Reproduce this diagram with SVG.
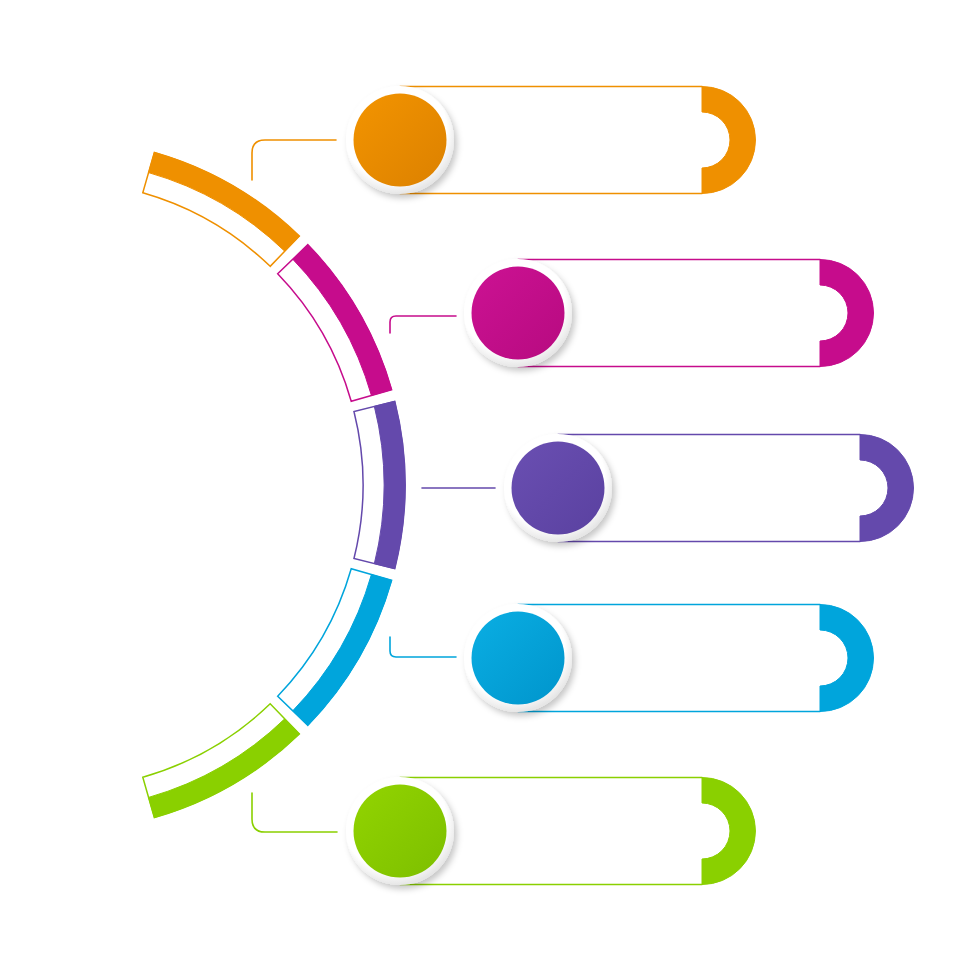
<svg xmlns="http://www.w3.org/2000/svg" width="980" height="980" viewBox="0 0 980 980">
<defs>
<filter id="sh" x="-30%" y="-30%" width="170%" height="170%">
<feDropShadow dx="3" dy="4" stdDeviation="3" flood-color="#000" flood-opacity="0.22"/>
</filter>
<radialGradient id="ring" cx="45%" cy="40%" r="60%">
<stop offset="80%" stop-color="#ffffff"/>
<stop offset="100%" stop-color="#e6e6e6"/>
</radialGradient>
<linearGradient id="gO" x1="0" y1="0" x2="1" y2="1"><stop offset="0" stop-color="#F39400"/><stop offset="1" stop-color="#DC8100"/></linearGradient>
<linearGradient id="gM" x1="0" y1="0" x2="1" y2="1"><stop offset="0" stop-color="#CC1293"/><stop offset="1" stop-color="#B70A80"/></linearGradient>
<linearGradient id="gP" x1="0" y1="0" x2="1" y2="1"><stop offset="0" stop-color="#6A4FB2"/><stop offset="1" stop-color="#5A41A0"/></linearGradient>
<linearGradient id="gC" x1="0" y1="0" x2="1" y2="1"><stop offset="0" stop-color="#0AAEE3"/><stop offset="1" stop-color="#0095CC"/></linearGradient>
<linearGradient id="gG" x1="0" y1="0" x2="1" y2="1"><stop offset="0" stop-color="#92D400"/><stop offset="1" stop-color="#7DBF00"/></linearGradient>
</defs>
<style>
.ln{fill:none;stroke-width:1.6;stroke-linecap:round}
.ol{fill:#fff;stroke-width:1.5}
.o{stroke:#EF9000;fill:#EF9000}
.m{stroke:#C60C8C;fill:#C60C8C}
.p{stroke:#6449AC;fill:#6449AC}
.c{stroke:#00A5DC;fill:#00A5DC}
.g{stroke:#8AD000;fill:#8AD000}
.ring{fill:url(#ring);filter:url(#sh)}
</style>
<rect width="980" height="980" fill="#fff"/>

<g id="arc">
<g id="seg-orange">
<path class="ol o" style="fill:#fff" d="M154.37 152.40 A346 346 0 0 1 299.35 236.11 L270.18 266.32 A304 304 0 0 0 142.79 192.78 Z"/>
<path class="o" stroke="none" d="M154.37 152.40 A346 346 0 0 1 299.35 236.11 L284.76 251.21 A325 325 0 0 0 148.58 172.59 Z"/>
</g>
<g id="seg-magenta">
<path class="ol m" style="fill:#fff" d="M307.89 244.65 A346 346 0 0 1 391.60 389.63 L351.22 401.21 A304 304 0 0 0 277.68 273.82 Z"/>
<path class="m" stroke="none" d="M307.89 244.65 A346 346 0 0 1 391.60 389.63 L371.41 395.42 A325 325 0 0 0 292.79 259.24 Z"/>
</g>
<g id="seg-purple">
<path class="ol p" style="fill:#fff" d="M394.72 401.30 A346 346 0 0 1 394.72 568.70 L353.97 558.54 A304 304 0 0 0 353.97 411.46 Z"/>
<path class="p" stroke="none" d="M394.72 401.30 A346 346 0 0 1 394.72 568.70 L374.35 563.62 A325 325 0 0 0 374.35 406.38 Z"/>
</g>
<g id="seg-cyan">
<path class="ol c" style="fill:#fff" d="M391.60 580.37 A346 346 0 0 1 307.89 725.35 L277.68 696.18 A304 304 0 0 0 351.22 568.79 Z"/>
<path class="c" stroke="none" d="M391.60 580.37 A346 346 0 0 1 307.89 725.35 L292.79 710.76 A325 325 0 0 0 371.41 574.58 Z"/>
</g>
<g id="seg-green">
<path class="ol g" style="fill:#fff" d="M299.35 733.89 A346 346 0 0 1 154.37 817.60 L142.79 777.22 A304 304 0 0 0 270.18 703.82 Z"/>
<path class="g" stroke="none" d="M299.35 733.89 A346 346 0 0 1 154.37 817.60 L148.58 797.41 A325 325 0 0 0 284.76 718.79 Z"/>
</g>
</g>

<g id="connectors">
<path class="ln o" style="fill:none" d="M252 180 L252 153 Q252 140 265 140 L336 140"/>
<path class="ln m" style="fill:none" d="M390 333 L390 322 Q390 316 396 316 L456 316"/>
<path class="ln p" style="fill:none" d="M422 488 L495 488"/>
<path class="ln c" style="fill:none" d="M390 637 L390 651 Q390 657 396 657 L456 657"/>
<path class="ln g" style="fill:none" d="M252 793 L252 819 Q252 832 265 832 L337 832"/>
</g>

<g id="node1">
<path class="ln o" style="fill:none" d="M400 86.5 L702 86.5 M400 193.5 L702 193.5"/>
<path class="o" stroke="none" d="M702 86.5 A53.5 53.5 0 0 1 702 193.5 L702 168 A28 28 0 0 0 702 112 Z"/>
<circle class="ring" cx="400" cy="140" r="54"/>
<circle cx="400" cy="140" r="46.5" fill="url(#gO)"/>
</g>
<g id="node2">
<path class="ln m" style="fill:none" d="M518 259.5 L820 259.5 M518 366.5 L820 366.5"/>
<path class="m" stroke="none" d="M820 259.5 A53.5 53.5 0 0 1 820 366.5 L820 341 A28 28 0 0 0 820 285 Z"/>
<circle class="ring" cx="518" cy="313" r="54"/>
<circle cx="518" cy="313" r="46.5" fill="url(#gM)"/>
</g>
<g id="node3">
<path class="ln p" style="fill:none" d="M558 434.5 L860 434.5 M558 541.5 L860 541.5"/>
<path class="p" stroke="none" d="M860 434.5 A53.5 53.5 0 0 1 860 541.5 L860 516 A28 28 0 0 0 860 460 Z"/>
<circle class="ring" cx="558" cy="488" r="54"/>
<circle cx="558" cy="488" r="46.5" fill="url(#gP)"/>
</g>
<g id="node4">
<path class="ln c" style="fill:none" d="M518 604.5 L820 604.5 M518 711.5 L820 711.5"/>
<path class="c" stroke="none" d="M820 604.5 A53.5 53.5 0 0 1 820 711.5 L820 686 A28 28 0 0 0 820 630 Z"/>
<circle class="ring" cx="518" cy="658" r="54"/>
<circle cx="518" cy="658" r="46.5" fill="url(#gC)"/>
</g>
<g id="node5">
<path class="ln g" style="fill:none" d="M400 777.5 L702 777.5 M400 884.5 L702 884.5"/>
<path class="g" stroke="none" d="M702 777.5 A53.5 53.5 0 0 1 702 884.5 L702 859 A28 28 0 0 0 702 803 Z"/>
<circle class="ring" cx="400" cy="831" r="54"/>
<circle cx="400" cy="831" r="46.5" fill="url(#gG)"/>
</g>
</svg>
